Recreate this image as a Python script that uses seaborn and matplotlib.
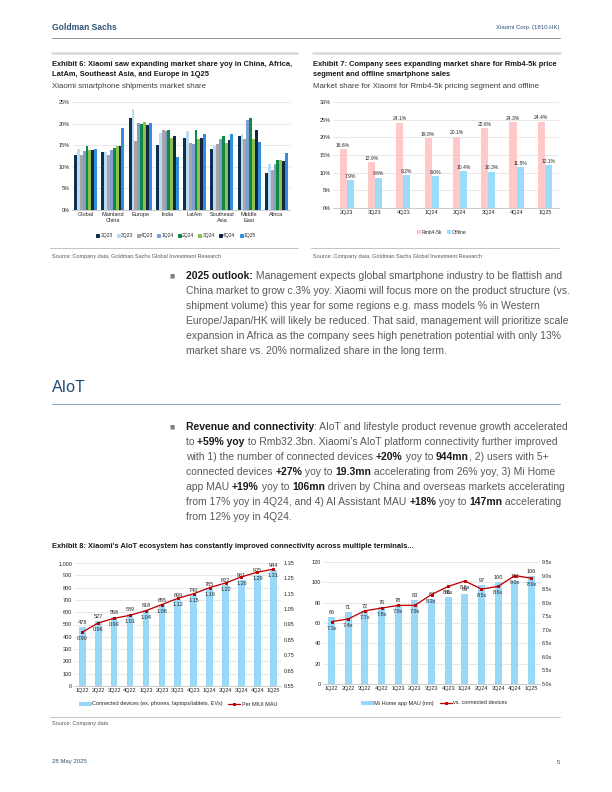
import numpy as np
import pandas as pd
import matplotlib
matplotlib.use("Agg")
import matplotlib.pyplot as plt
import seaborn as sns
from matplotlib import font_manager
from matplotlib.lines import Line2D
from matplotlib.patches import Patch

W, H = 612, 792

# ---- Exhibit 6: smartphone shipment market share by region (%)
regions = ["Global", "Mainland\nChina", "Europe", "India", "LatAm",
           "Southeast\nAsia", "Middle\nEast", "Africa"]
quarters6 = ["2Q23", "3Q23", "4Q23", "1Q24", "2Q24", "3Q24", "4Q24", "1Q25"]
share_global = [12.8, 14.1, 12.7, 13.7, 14.7, 13.8, 13.8, 14.1]
share_china = [13.4, 13.5, 12.8, 14.0, 14.3, 14.8, 14.7, 18.9]
share_europe = [21.2, 23.4, 15.9, 20.2, 19.9, 20.4, 19.6, 20.2]
share_india = [15.0, 17.8, 18.5, 18.2, 18.5, 16.7, 17.1, 12.3]
share_latam = [16.6, 18.3, 15.5, 15.3, 18.6, 16.4, 16.7, 17.5]
share_sea = [14.1, 14.9, 15.2, 16.5, 17.2, 15.5, 16.1, 17.5]
share_me = [17.1, 17.7, 16.4, 20.9, 21.2, 16.5, 18.6, 15.7]
share_africa = [8.6, 10.7, 9.3, 10.6, 11.6, 11.6, 11.3, 13.2]
colors6 = ["#0d2f50", "#bcdcf3", "#a6a6a6", "#7f9fcf",
           "#0f8a46", "#8dc04f", "#14263e", "#2f8fde"]

# ---- Exhibit 7: Rmb4-5k segment and offline share (%)
quarters7 = ["2Q23", "3Q23", "4Q23", "1Q24", "2Q24", "3Q24", "4Q24", "1Q25"]
rmb45k = [16.6, 12.9, 24.1, 19.8, 20.1, 22.6, 24.3, 24.4]
offline = [7.9, 8.6, 9.2, 9.0, 10.4, 10.3, 11.5, 12.1]

# ---- Exhibit 8: AIoT connectivity
quarters8 = ["1Q22", "2Q22", "3Q22", "4Q22", "1Q23", "2Q23", "3Q23", "4Q23",
             "1Q24", "2Q24", "3Q24", "4Q24", "1Q25"]
connected_devices = [478, 527, 558, 589, 618, 655, 699, 740, 785, 822, 861, 905, 944]
per_miui_mau = [0.90, 0.96, 0.99, 1.01, 1.04, 1.08, 1.12, 1.15, 1.19, 1.22, 1.26, 1.29, 1.31]
mihome_mau = [66, 71, 72, 76, 78, 83, 84, 86, 89, 97, 100, 101, 106]
vs_connected = [7.3, 7.4, 7.7, 7.8, 7.9, 7.9, 8.3, 8.6, 8.8, 8.5, 8.6, 9.0, 8.9]

names = {f.name for f in font_manager.fontManager.ttflist}
NARROW = "Liberation Sans Narrow" if "Liberation Sans Narrow" in names else "Liberation Sans"
BODY = "Liberation Sans"

sns.set_theme(style="white")
plt.rcParams["font.family"] = [NARROW, "DejaVu Sans"]

fig = plt.figure(figsize=(W / 72, H / 72), dpi=72)
renderer = fig.canvas.get_renderer()

DARK = "#262626"
GREY = "#595959"
NAVY = "#2f5376"


def fx(x):
    return x / W


def fy(y):
    return 1 - y / H


def ax_px(l, t, r, b):
    return fig.add_axes([l / W, 1 - b / H, (r - l) / W, (b - t) / H])


def hline(x0, x1, y, color, lw):
    fig.add_artist(Line2D([fx(x0), fx(x1)], [fy(y), fy(y)],
                          transform=fig.transFigure, color=color, lw=lw))


def text_w(s, **kw):
    t = fig.text(0, 0, s, **kw)
    w = t.get_window_extent(renderer).width
    t.remove()
    return w


def fit(s, target, size=8, **kw):
    return size * target / text_w(s, fontsize=size, **kw)


def txt(x, y, s, **kw):
    kw.setdefault("va", "center")
    return fig.text(fx(x), fy(y), s, **kw)


def rich_line(x, y, line, size):
    cur = x
    for i, part in enumerate(line.split("**")):
        if not part:
            continue
        bold = i % 2 == 1
        kw = dict(fontsize=size, family=BODY,
                  fontweight="bold" if bold else "normal",
                  color="#1a1a1a" if bold else GREY)
        adv = text_w("|" + part + "|", **kw) - text_w("||", **kw)
        txt(cur, y, part, ha="left", **kw)
        cur += adv


def line_w(line, size):
    tot = 0
    for i, part in enumerate(line.split("**")):
        if not part:
            continue
        kw = dict(fontsize=size, family=BODY,
                  fontweight="bold" if i % 2 else "normal")
        tot += text_w("|" + part + "|", **kw) - text_w("||", **kw)
    return tot


def style_ax(ax, grid=True):
    ax.set_xlabel("")
    ax.set_ylabel("")
    for s in ["top", "right", "left"]:
        ax.spines[s].set_visible(False)
    ax.spines["bottom"].set_color("#bfbfbf")
    ax.spines["bottom"].set_linewidth(0.8)
    ax.tick_params(axis="both", length=0, labelsize=5.5, colors=DARK, pad=2)
    if grid:
        ax.yaxis.grid(True, color="#d9d9d9", lw=0.6)
        ax.set_axisbelow(True)


# ---------------- page header / footer
txt(52, 28, "Goldman Sachs", fontsize=8.5, color=NAVY, fontweight="bold", ha="left")
txt(560, 28, "Xiaomi Corp. (1810.HK)", fontsize=6, color=NAVY, ha="right")
hline(52, 560, 38, "#8c8c8c", 0.9)
txt(52, 762, "28 May 2025", fontsize=6, color=NAVY, ha="left")
txt(560, 762, "5", fontsize=6, color=NAVY, ha="right")

hline(52, 297, 53, "#d9d9d9", 2.5)
hline(313, 560, 53, "#d9d9d9", 2.5)

tsize = fit("Exhibit 6: Xiaomi saw expanding market share yoy in China, Africa,", 242,
            fontweight="bold")
ssize = fit("Xiaomi smartphone shipments market share", 153)
srcsize = fit("Source: Company data, Goldman Sachs Global Investment Research", 171)

for x, lines, sub in [
    (52, ["Exhibit 6: Xiaomi saw expanding market share yoy in China, Africa,",
          "LatAm, Southeast Asia, and Europe in 1Q25"],
     "Xiaomi smartphone shipments market share"),
    (313, ["Exhibit 7: Company sees expanding market share for Rmb4-5k price",
           "segment and offline smartphone sales"],
     "Market share for Xiaomi for Rmb4-5k pricing segment and offline"),
]:
    for k, ln in enumerate(lines):
        txt(x, 65 + 9 * k, ln, fontsize=tsize, fontweight="bold", color="#1a1a1a", ha="left")
    txt(x, 86, sub, fontsize=ssize, color="#404040", ha="left")
    hline(x - 2, x + 246, 248, "#bfbfbf", 0.9)
    txt(x, 256, "Source: Company data, Goldman Sachs Global Investment Research",
        fontsize=srcsize, color=GREY, ha="left")

# ---------------- Exhibit 6
ax6 = ax_px(72, 102, 290, 210)
df6 = pd.DataFrame({"region": regions,
                    "Global": share_global})
df6 = pd.DataFrame([share_global, share_china, share_europe, share_india,
                    share_latam, share_sea, share_me, share_africa],
                   index=regions, columns=quarters6)
long6 = df6.reset_index(names="region").melt(id_vars="region", var_name="quarter",
                                             value_name="share")
sns.barplot(data=long6, x="region", y="share", hue="quarter", palette=colors6,
            width=0.84, saturation=1, linewidth=0, legend=False, ax=ax6)
ax6.set_ylim(0, 25)
ax6.set_yticks(np.arange(0, 26, 5))
ax6.set_yticklabels([f"{v}%" for v in range(0, 26, 5)])
style_ax(ax6)
fig.legend([Patch(color=c) for c in colors6], quarters6, loc="center",
           bbox_to_anchor=(fx(176), fy(236)), ncol=8, fontsize=5, frameon=False,
           handlelength=0.6, handleheight=0.6, handletextpad=0.25, columnspacing=0.8)

# ---------------- Exhibit 7
ax7 = ax_px(332.5, 102, 559, 208)
long7 = pd.DataFrame({"quarter": quarters7 * 2,
                      "series": ["Rmb4-5k"] * 8 + ["Offline"] * 8,
                      "share": rmb45k + offline})
colors7 = ["#ffc9c9", "#9bdcfa"]
sns.barplot(data=long7, x="quarter", y="share", hue="series", palette=colors7,
            width=0.5, saturation=1, linewidth=0, legend=False, ax=ax7)
for cont, vals in zip(ax7.containers, [rmb45k, offline]):
    ax7.bar_label(cont, labels=[f"{v:.1f}%" for v in vals], fontsize=5, padding=1.5,
                  color=DARK)
ax7.set_ylim(0, 30)
ax7.set_yticks(np.arange(0, 31, 5))
ax7.set_yticklabels([f"{v}%" for v in range(0, 31, 5)])
style_ax(ax7)
fig.legend([Patch(color=c) for c in colors7], ["Rmb4-5k", "Offline"], loc="center",
           bbox_to_anchor=(fx(442), fy(232)), ncol=2, fontsize=5, frameon=False,
           handlelength=0.6, handleheight=0.6, handletextpad=0.3, columnspacing=1.0)

# ---------------- body text
para1 = [
    "**2025 outlook:** Management expects global smartphone industry to be flattish and",
    "China market to grow c.3% yoy. Xiaomi will focus more on the product structure (vs.",
    "shipment volume) this year for some regions e.g. mass models % in Western",
    "Europe/Japan/HK will likely be reduced. That said, management will prioritize scale",
    "expansion in Africa as the company sees high penetration potential with only 13%",
    "market share vs. 20% normalized share in the long term.",
]
para2 = [
    "**Revenue and connectivity**: AIoT and lifestyle product revenue growth accelerated",
    "to **+59% yoy** to Rmb32.3bn. Xiaomi's AIoT platform connectivity further improved",
    "with 1) the number of connected devices **+20%** yoy to **944mn**, 2) users with 5+",
    "connected devices **+27%** yoy to **19.3mn** accelerating from 26% yoy, 3) Mi Home",
    "app MAU **+19%** yoy to **106mn** driven by China and overseas markets accelerating",
    "from 17% yoy in 4Q24, and 4) AI Assistant MAU **+18%** yoy to **147mn** accelerating",
    "from 12% yoy in 4Q24.",
]
bsize = 9 * 374 / line_w(para1[0], 9)
for y0, para in [(276, para1), (427, para2)]:
    txt(172, y0, "\u25a0", fontsize=5.5, color="#7f7f7f", ha="center", family="DejaVu Sans")
    for k, ln in enumerate(para):
        rich_line(186, y0 + 15 * k, ln, bsize)

txt(52, 388, "AIoT", fontsize=16, color="#1f4e79", ha="left", family=BODY)
hline(52, 560, 404, "#6d8bab", 0.8)

# ---------------- Exhibit 8
txt(52, 546, "Exhibit 8: Xiaomi's AIoT ecosystem has constantly improved connectivity "
    "across multiple terminals...", fontsize=tsize, fontweight="bold", color="#1a1a1a",
    ha="left")
BAR8 = "#9ad8f7"
RED8 = "#c00000"

# left panel
ax8a = ax_px(74.3, 563, 281.3, 686)
sns.barplot(x=quarters8, y=connected_devices, color=BAR8, width=0.42, saturation=1,
            linewidth=0, ax=ax8a)
ax8a.bar_label(ax8a.containers[0], labels=[str(v) for v in connected_devices],
               fontsize=5.5, padding=2, color=DARK)
ax8a.set_ylim(0, 1000)
ax8a.set_yticks(np.arange(0, 1001, 100))
ax8a.set_yticklabels([f"{v:,}" for v in range(0, 1001, 100)])
style_ax(ax8a)
ax8b = ax8a.twinx()
sns.pointplot(x=quarters8, y=per_miui_mau, color=RED8, markers="s", markersize=2.5,
              linewidth=1.3, errorbar=None, ax=ax8b)
for i, v in enumerate(per_miui_mau):
    ax8b.annotate(f"{v:.2f}", (i, v), xytext=(0, -4), textcoords="offset points",
                  ha="center", va="top", fontsize=5.5, color=DARK)
ax8b.set_ylim(0.55, 1.35)
ax8b.set_yticks(np.round(np.arange(0.55, 1.36, 0.1), 2))
ax8b.set_yticklabels([f"{v:.2f}" for v in np.arange(0.55, 1.36, 0.1)])
style_ax(ax8b, grid=False)
ax8b.spines["bottom"].set_visible(False)
fig.legend([Patch(color=BAR8), Line2D([], [], color=RED8, marker="s", ms=2.5, lw=1.3)],
           ["Connected devices (ex. phones, laptops/tablets, EVs)", "Per MIUI MAU"],
           loc="center", bbox_to_anchor=(fx(178), fy(704)), ncol=2, fontsize=5.5,
           frameon=False, handlelength=2.2, handleheight=0.6, handletextpad=0.3,
           columnspacing=1.0)

# right panel
ax8c = ax_px(323.2, 562, 539.8, 684)
sns.barplot(x=quarters8, y=mihome_mau, color=BAR8, width=0.42, saturation=1,
            linewidth=0, ax=ax8c)
ax8c.bar_label(ax8c.containers[0], labels=[str(v) for v in mihome_mau],
               fontsize=5.5, padding=2, color=DARK)
ax8c.set_ylim(0, 120)
ax8c.set_yticks(np.arange(0, 121, 20))
style_ax(ax8c)
ax8d = ax8c.twinx()
sns.pointplot(x=quarters8, y=vs_connected, color=RED8, markers="s", markersize=2.5,
              linewidth=1.3, errorbar=None, ax=ax8d)
for i, v in enumerate(vs_connected):
    ax8d.annotate(f"{v:.1f}x", (i, v), xytext=(0, -4), textcoords="offset points",
                  ha="center", va="top", fontsize=5.5, color=DARK)
ax8d.set_ylim(5.0, 9.5)
ax8d.set_yticks(np.arange(5.0, 9.51, 0.5))
ax8d.set_yticklabels([f"{v:.1f}x" for v in np.arange(5.0, 9.51, 0.5)])
style_ax(ax8d, grid=False)
ax8d.spines["bottom"].set_visible(False)
fig.legend([Patch(color=BAR8), Line2D([], [], color=RED8, marker="s", ms=2.5, lw=1.3)],
           ["Mi Home app MAU (mn)", "vs. connected devices"],
           loc="center", bbox_to_anchor=(fx(434), fy(703)), ncol=2, fontsize=5.5,
           frameon=False, handlelength=2.2, handleheight=0.6, handletextpad=0.3,
           columnspacing=1.0)

hline(50, 560, 717, "#bfbfbf", 0.9)
txt(52, 724, "Source: Company data", fontsize=srcsize, color=GREY, ha="left")

fig.savefig("out.png", dpi=72)
